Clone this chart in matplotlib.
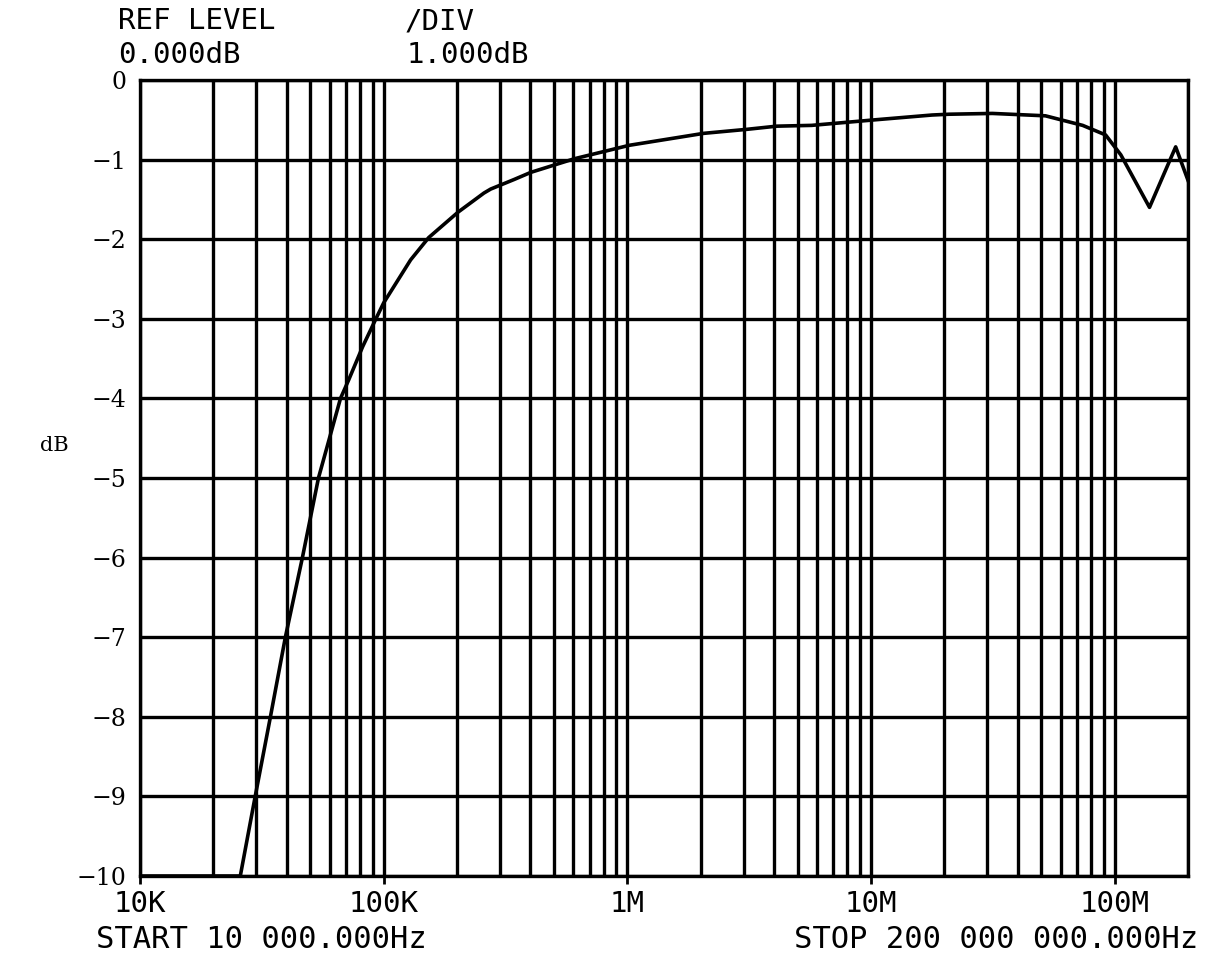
import matplotlib
matplotlib.use("Agg")
import matplotlib.pyplot as plt
from matplotlib.ticker import LogLocator, NullFormatter


# response
freq_hz = [10e3, 25.8e3, 29.7e3, 34.3e3, 39.5e3, 46.4e3, 54.0e3, 66.5e3,
           71.8e3, 82e3, 93.6e3, 100e3, 129e3, 153e3, 202e3, 258e3, 275e3,
           343e3, 402e3, 605e3, 1.02e6, 2.06e6, 3.09e6, 4.1e6, 5.71e6,
           10.4e6, 17.8e6, 20.9e6, 31.5e6, 52e6, 73.9e6, 91.8e6, 106e6,
           139e6, 178e6, 200e6]
level_db = [-10.0, -10.0, -9.0, -8.0, -7.0, -6.0, -5.0, -4.0,
            -3.77, -3.35, -2.98, -2.8, -2.26, -1.98, -1.66, -1.42, -1.37,
            -1.25, -1.16, -0.99, -0.82, -0.67, -0.62, -0.58, -0.57,
            -0.5, -0.44, -0.43, -0.42, -0.45, -0.57, -0.69, -0.94,
            -1.6, -0.84, -1.26]

y_ticks = [0, -1, -2, -3, -4, -5, -6, -7, -8, -9, -10]
y_labels = ["0", "\u22121", "\u22122", "\u22123", "\u22124", "\u22125",
            "\u22126", "\u22127", "\u22128", "\u22129", "\u221210"]
x_ticks = [1e4, 1e5, 1e6, 1e7, 1e8]
x_labels = ["10K", "100K", "1M", "10M", "100M"]

W, H = 1205, 955
plotter = "DejaVu Sans Mono"


def px(x, y):
    return x / W, 1 - y / H


def main():

    fig = plt.figure(figsize=(W / 100, H / 100), dpi=100)
    ax = fig.add_axes([140 / W, 1 - 876 / H, 1048 / W, 796 / H])

    ax.set_xscale("log")
    ax.set_xlim(1e4, 2e8)
    ax.set_ylim(-10, 0)

    # plotter grid: every 1-9 multiple per decade, 1 dB rows
    ax.xaxis.set_major_locator(LogLocator(base=10, subs=(1.0,), numticks=20))
    ax.xaxis.set_minor_locator(LogLocator(base=10, subs=range(2, 10), numticks=20))
    ax.xaxis.set_minor_formatter(NullFormatter())
    ax.set_xticks(x_ticks)
    ax.set_xticklabels(x_labels, fontfamily=plotter, fontsize=21)
    ax.set_yticks(y_ticks)
    ax.set_yticklabels(y_labels, fontfamily="DejaVu Serif", fontsize=17)

    ax.grid(True, which="both", axis="x", color="black", lw=2.4)
    ax.grid(True, which="major", axis="y", color="black", lw=2.4)
    ax.tick_params(axis="y", length=0, pad=10)
    ax.tick_params(axis="x", which="major", length=6, width=2, direction="out", pad=4)
    ax.tick_params(axis="x", which="minor", length=0)
    for s in ax.spines.values():
        s.set_linewidth(2.4)

    ax.plot(freq_hz, level_db, color="black", lw=2.6, zorder=3)

    fig.text(*px(40, 445), "dB", family="DejaVu Serif", fontsize=15, va="center")

    fig.text(*px(118, 29), "REF LEVEL", family=plotter, fontsize=21, va="baseline")
    fig.text(*px(405, 29), "/DIV", family=plotter, fontsize=21, va="baseline")
    fig.text(*px(118, 63), "0.000dB", family=plotter, fontsize=21, va="baseline")
    fig.text(*px(407, 63), "1.000dB", family=plotter, fontsize=21, va="baseline")
    fig.text(*px(96, 948), "START 10 000.000Hz", family=plotter, fontsize=22, va="baseline")
    fig.text(*px(1198, 948), "STOP 200 000 000.000Hz", family=plotter, fontsize=22,
             va="baseline", ha="right")

    fig.savefig("out.png", dpi=100)


if __name__ == "__main__":

    main()
